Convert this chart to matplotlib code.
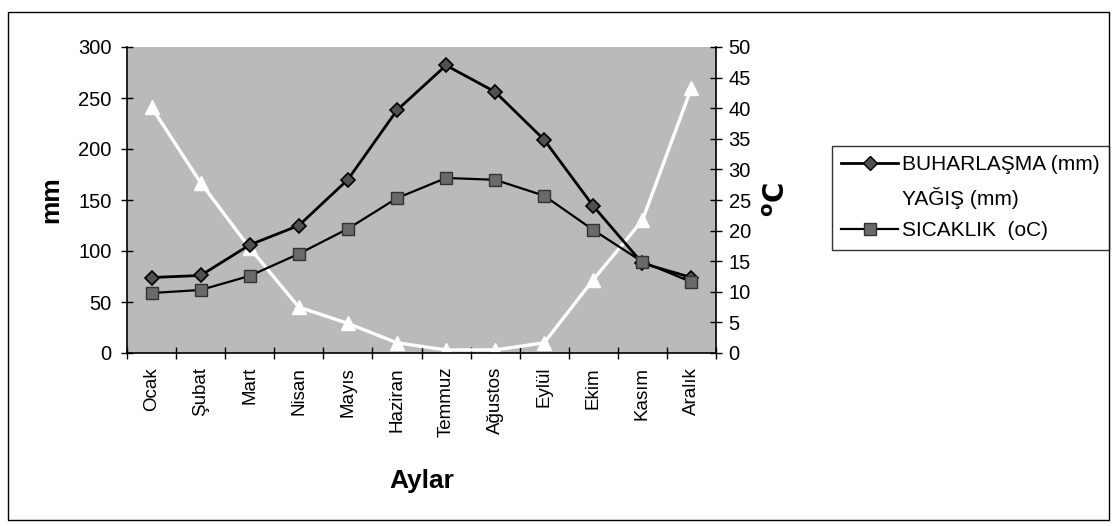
import matplotlib
matplotlib.use("Agg")
import matplotlib.pyplot as plt
from matplotlib.patches import Rectangle
from matplotlib.lines import Line2D

plt.rcParams["font.family"] = ["Liberation Sans", "DejaVu Sans"]

months = ["Ocak", "Şubat", "Mart", "Nisan", "Mayıs", "Haziran",
          "Temmuz", "Ağustos", "Eylül", "Ekim", "Kasım", "Aralık"]
buharlasma = [74, 76, 106, 125, 170, 238, 282, 256, 209, 144, 88, 74]
yagis = [241, 167, 103, 45, 29, 10, 3, 3, 10, 72, 130, 260]
sicaklik = [9.8, 10.3, 12.6, 16.2, 20.3, 25.3, 28.6, 28.3, 25.7, 20.1, 14.9, 11.6]

W, H = 1113, 526
fig = plt.figure(figsize=(W / 100, H / 100), dpi=100)
fig.patch.set_facecolor("white")

# outer border
fig.patches.append(Rectangle((8 / W, 1 - 520 / H), (1109 - 8) / W, (520 - 12) / H,
                             transform=fig.transFigure, fill=False,
                             edgecolor="black", linewidth=1.0))

ax = fig.add_axes([127 / W, 1 - 353 / H, (716 - 127) / W, (353 - 47) / H])
ax.set_facecolor("#bababa")
x = list(range(len(months)))

ax.plot(x, yagis, color="white", linewidth=2.4, marker="^", markersize=10,
        markerfacecolor="white", markeredgecolor="white", zorder=2,
        label="YAĞIŞ (mm)")
ax.plot(x, buharlasma, color="black", linewidth=2.0, marker="D", markersize=7,
        markerfacecolor="#505050", markeredgecolor="black", markeredgewidth=1.2,
        zorder=3, label="BUHARLAŞMA (mm)")

ax.set_xlim(-0.5, 11.5)
ax.set_ylim(0, 300)
ax.set_yticks(range(0, 301, 50))
ax.tick_params(axis="y", direction="inout", length=8, labelsize=14.5, width=1, pad=7)
ax.set_xticks([i - 0.5 for i in range(13)])
ax.set_xticklabels([])
ax.set_xticks(x, minor=True)
ax.set_xticklabels(months, minor=True, rotation=90, fontsize=13.5)
ax.tick_params(axis="x", which="major", direction="inout", length=8, width=1)
ax.tick_params(axis="x", which="minor", length=0, pad=10)
for s in ["top", "right"]:
    ax.spines[s].set_visible(False)
ax.spines["left"].set_linewidth(1.2)
ax.spines["bottom"].set_linewidth(1.2)
ax.set_ylabel("mm", fontsize=19, fontweight="bold", labelpad=11)
ax.set_xlabel("Aylar", fontsize=19, fontweight="bold", labelpad=23)

ax2 = ax.twinx()
ax2.plot(x, sicaklik, color="black", linewidth=1.6, marker="s", markersize=9,
         markerfacecolor="#6a6a6a", markeredgecolor="#333333", markeredgewidth=1.0,
         zorder=3, label="SICAKLIK  (oC)")
ax2.set_ylim(0, 50)
ax2.set_yticks(range(0, 51, 5))
ax2.tick_params(axis="y", direction="inout", length=8, labelsize=14.5, width=1, pad=5)
for s in ["top", "left", "bottom"]:
    ax2.spines[s].set_visible(False)
ax2.spines["right"].set_linewidth(1.2)
ax2.set_ylabel(r"$^{\mathbf{o}}\mathbf{C}$", fontsize=20, rotation=90, labelpad=10)

handles = [
    Line2D([], [], color="black", linewidth=2.0, marker="D", markersize=7,
           markerfacecolor="#505050", markeredgecolor="black"),
    Line2D([], [], color="white", linewidth=2.0, marker="^", markersize=9,
           markerfacecolor="white", markeredgecolor="white"),
    Line2D([], [], color="black", linewidth=1.6, marker="s", markersize=9,
           markerfacecolor="#6a6a6a", markeredgecolor="#333333"),
]
labels = ["BUHARLAŞMA (mm)", "YAĞIŞ (mm)", "SICAKLIK  (oC)"]
leg = fig.legend(handles, labels, loc="upper left",
                 bbox_to_anchor=(832 / W, 1 - 146 / H), fontsize=15,
                 frameon=True, fancybox=False, shadow=False, handlelength=2.7,
                 handletextpad=0.2, borderpad=0.45, labelspacing=0.6,
                 borderaxespad=0)
leg.get_frame().set_edgecolor("black")
leg.get_frame().set_linewidth(1.0)

fig.savefig("out.png", dpi=100, facecolor="white")
